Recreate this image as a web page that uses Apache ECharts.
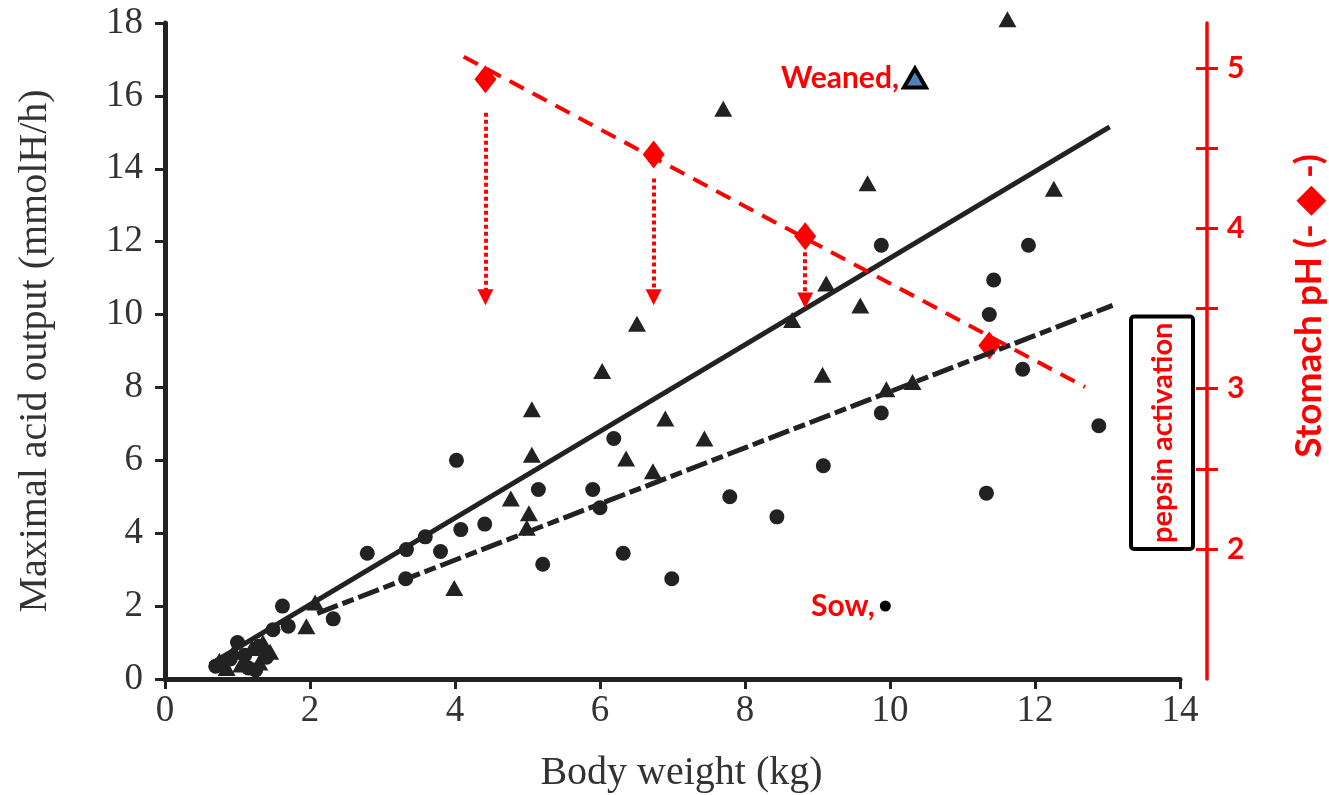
<!DOCTYPE html>
<html>
<head>
<meta charset="utf-8">
<script src="https://cdn.jsdelivr.net/npm/echarts@6/dist/echarts.min.js"></script>
<style>
  html, body { margin: 0; padding: 0; background: #fff; }
  #chart { width: 1329px; height: 795px; }
</style>
</head>
<body>
<div id="chart"></div>
<script>
// Weaned piglets (triangles): body weight (kg) and maximal acid output (mmolH/h)
const weanedWeight = [11.62, 7.70, 9.69, 12.26, 9.12, 9.59, 8.65, 6.51, 6.03, 9.07, 9.95, 10.31,
  5.06, 6.90, 7.44, 5.06, 6.36, 6.73, 4.77, 5.02, 4.99, 3.99, 2.07, 1.95,
  0.75, 0.95, 1.05, 1.20, 1.30, 1.45, 0.85, 1.35];
const weanedAcid = [18.1, 15.65, 13.6, 13.45, 10.85, 10.25, 9.85, 9.75, 8.45, 8.35, 7.95, 8.15,
  7.4, 7.15, 6.6, 6.15, 6.05, 5.7, 4.95, 4.55, 4.15, 2.5, 2.1, 1.45,
  0.5, 0.75, 0.4, 0.85, 0.45, 0.75, 0.3, 1.0];

// Sow-reared piglets (circles)
const sowWeight = [9.88, 11.91, 11.43, 11.37, 11.83, 12.88, 9.88, 11.33, 9.08, 7.79, 8.44, 6.32,
  6.99, 5.21, 4.02, 6.19, 5.90, 5.15, 4.41, 4.08, 3.80, 3.59, 3.33, 3.32,
  2.79, 1.62, 2.32, 1.70, 1.49, 6.00,
  0.90, 1.00, 1.10, 1.25, 1.15, 0.70, 1.40, 1.30];
const sowAcid = [11.9, 11.9, 10.95, 10.0, 8.5, 6.95, 7.3, 5.1, 5.85, 5.0, 4.45, 3.45,
  2.75, 3.15, 6.0, 6.6, 5.2, 5.2, 4.25, 4.1, 3.5, 3.9, 3.55, 2.75,
  3.45, 2.0, 1.65, 1.45, 1.35, 4.7,
  0.55, 1.0, 0.65, 0.25, 0.3, 0.35, 0.6, 0.9];

// Regression lines
const fitSolidWeight = [0.62, 13.03];
const fitSolidAcid = [0.40, 15.15];
const fitDashedWeight = [2.1, 13.07];
const fitDashedAcid = [1.8, 10.25];

// Stomach pH (diamonds) and its trend
const phWeight = [4.42, 6.74, 8.83, 11.37];
const stomachPH = [4.93, 4.46, 3.95, 3.27];
const phTrendWeight = [4.12, 12.69];
const phTrendPH = [5.07, 3.01];

// Downward arrows toward the pepsin activation zone
const arrowWeight = [4.42, 6.74, 8.83];
const arrowFromPH = [4.72, 4.31, 3.85];
const arrowToPH = [3.57, 3.57, 3.55];

// Axis ticks
const phTickValues = [2, 2.5, 3, 3.5, 4, 4.5, 5];
const phLabelValues = [2, 3, 4, 5];
const phRange = [1.19, 5.28];
const pepsinRange = [2, 3.45];

const pairs = (xs, ys) => xs.map((x, i) => [x, ys[i]]);

const INK = '#222222';
const RED = '#ff0000';
const SERIF = '"Liberation Serif", "DejaVu Serif", serif';
const SANS = 'Lato, "Open Sans", sans-serif';

const chart = echarts.init(document.getElementById('chart'), null, { renderer: 'canvas' });

const rightAxisBase = {
  type: 'value',
  position: 'right',
  offset: 27,
  min: phRange[0],
  max: phRange[1],
  splitLine: { show: false },
  axisLine: { show: false, onZero: false },
  axisLabel: { show: false },
  axisTick: { show: false }
};

chart.setOption({
  animation: false,
  backgroundColor: '#fff',
  grid: {
    left: 165, right: 149, top: 23, bottom: 116,
    outerBoundsMode: 'none', containLabel: false
  },
  legend: [
    {
      left: 776, top: 58,
      align: 'right',
      selectedMode: false,
      itemWidth: 22, itemHeight: 19,
      formatter: '{name},',
      textStyle: { color: RED, fontWeight: 'bold', fontSize: 30, fontFamily: SANS },
      data: [{
        name: 'Weaned', icon: 'triangle',
        itemStyle: { color: '#4f81bd', borderColor: '#000', borderWidth: 4 }
      }]
    },
    {
      left: 806, top: 586,
      align: 'right',
      selectedMode: false,
      itemWidth: 11, itemHeight: 11,
      formatter: '{name},',
      textStyle: { color: RED, fontWeight: 'bold', fontSize: 30, fontFamily: SANS },
      data: [{ name: 'Sow', icon: 'circle', itemStyle: { color: '#000' } }]
    }
  ],
  xAxis: {
    type: 'value',
    min: 0, max: 14, interval: 2,
    name: 'Body weight (kg)',
    nameLocation: 'middle',
    nameGap: 74,
    nameTextStyle: { color: '#333', fontSize: 40, fontFamily: SERIF, padding: [0, 0, 0, 18] },
    splitLine: { show: false },
    axisLine: { onZero: false, lineStyle: { color: INK, width: 5 } },
    axisTick: { length: 10, lineStyle: { color: INK, width: 3 } },
    axisLabel: { color: '#333', fontSize: 37, fontFamily: SERIF, margin: 14 }
  },
  yAxis: [
    {
      type: 'value',
      min: 0, max: 18, interval: 2,
      name: 'Maximal acid output (mmolH/h)',
      nameLocation: 'middle',
      nameGap: 110,
      nameTextStyle: { color: '#333', fontSize: 40, fontFamily: SERIF },
      splitLine: { show: false },
      axisLine: { onZero: false, lineStyle: { color: INK, width: 5 } },
      axisTick: { length: 10, lineStyle: { color: INK, width: 3 } },
      axisLabel: { color: '#333', fontSize: 37, fontFamily: SERIF, margin: 22 }
    },
    Object.assign({}, rightAxisBase, {
      axisLine: { show: true, onZero: false, lineStyle: { color: RED, width: 3.5 } },
      axisTick: {
        show: true, inside: false, length: 11,
        customValues: phTickValues,
        lineStyle: { color: RED, width: 3 }
      },
      axisLabel: {
        show: true, margin: 20,
        customValues: phLabelValues,
        color: RED, fontSize: 30, fontWeight: 'bold', fontFamily: SANS
      }
    }),
    Object.assign({}, rightAxisBase, {
      axisTick: {
        show: true, inside: true, length: 11,
        customValues: phTickValues,
        lineStyle: { color: RED, width: 3 }
      }
    })
  ],
  series: [
    {
      name: 'Weaned',
      type: 'scatter',
      clip: false,
      symbol: 'triangle',
      symbolSize: [18, 16],
      itemStyle: { color: INK, opacity: 1 },
      data: pairs(weanedWeight, weanedAcid)
    },
    {
      name: 'Sow',
      type: 'scatter',
      clip: false,
      symbol: 'circle',
      symbolSize: 15,
      itemStyle: { color: INK, opacity: 1 },
      data: pairs(sowWeight, sowAcid)
    },
    {
      name: 'fit-solid',
      type: 'line',
      symbol: 'none',
      lineStyle: { color: INK, width: 5 },
      data: pairs(fitSolidWeight, fitSolidAcid)
    },
    {
      name: 'fit-dashed',
      type: 'line',
      symbol: 'none',
      lineStyle: { color: INK, width: 5, type: [22, 5, 12, 5] },
      data: pairs(fitDashedWeight, fitDashedAcid)
    },
    {
      name: 'pH trend',
      type: 'line',
      yAxisIndex: 1,
      symbol: 'none',
      lineStyle: { color: RED, width: 4, type: [16, 10] },
      data: pairs(phTrendWeight, phTrendPH)
    },
    {
      name: 'Stomach pH',
      type: 'scatter',
      yAxisIndex: 1,
      symbol: 'diamond',
      symbolSize: [22, 28],
      itemStyle: { color: RED, opacity: 1 },
      data: pairs(phWeight, stomachPH),
      markLine: {
        silent: true,
        symbol: ['none', 'triangle'],
        symbolSize: 16,
        label: { show: false },
        lineStyle: { color: RED, width: 4, type: [4, 3] },
        itemStyle: { color: RED },
        data: arrowWeight.map((x, i) => [
          { coord: [x, arrowFromPH[i]] },
          { coord: [x, arrowToPH[i]] }
        ])
      }
    }
  ]
});

// Pepsin activation band and right-axis title
const boxTop = chart.convertToPixel({ yAxisIndex: 1 }, pepsinRange[1]);
const boxBottom = chart.convertToPixel({ yAxisIndex: 1 }, pepsinRange[0]);
chart.setOption({
  graphic: [
    {
      type: 'rect',
      shape: { x: 1131, y: boxTop, width: 62, height: boxBottom - boxTop, r: 3 },
      style: { fill: 'none', stroke: '#000', lineWidth: 4 },
      z: 10
    },
    {
      type: 'text',
      x: 1163, y: (boxTop + boxBottom) / 2,
      rotation: Math.PI / 2,
      style: {
        text: 'pepsin activation',
        fill: RED, fontSize: 29, fontWeight: 'bold', fontFamily: SANS,
        align: 'center', verticalAlign: 'middle'
      },
      z: 10
    },
    {
      type: 'text',
      x: 1309, y: 306,
      rotation: Math.PI / 2,
      style: {
        text: 'Stomach pH (- \u25C6 -)',
        fill: RED, fontSize: 37, fontWeight: 'bold', fontFamily: SANS,
        align: 'center', verticalAlign: 'middle'
      },
      z: 10
    }
  ]
});
</script>
</body>
</html>
